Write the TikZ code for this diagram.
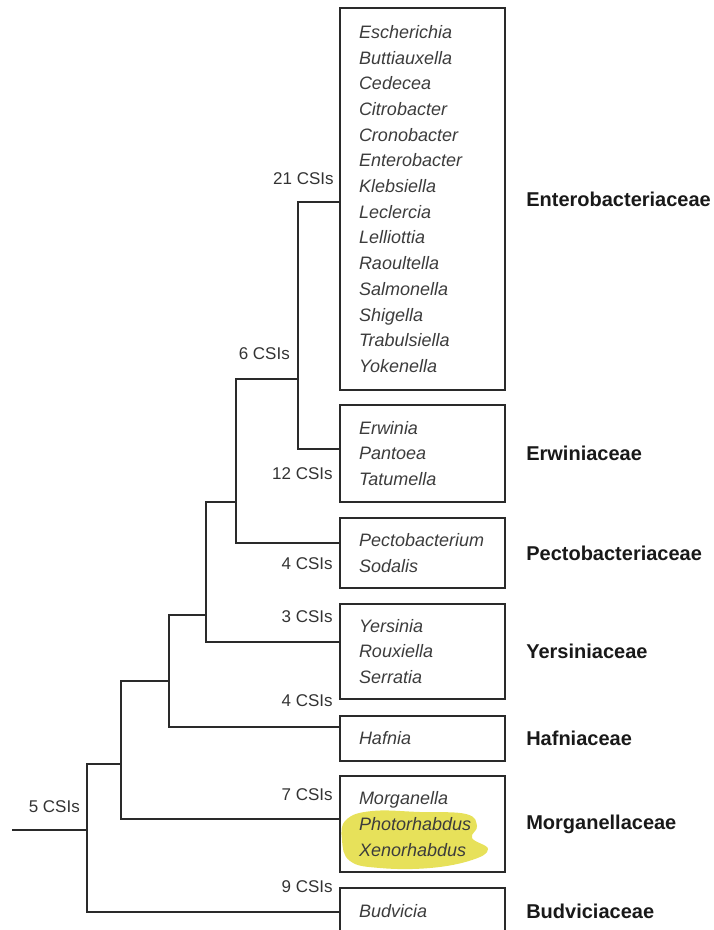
\documentclass[tikz,border=0pt]{standalone}
\usepackage{fontspec}
\setmainfont{Liberation Sans}
\usetikzlibrary{positioning}

\definecolor{treeline}{HTML}{2A2A2A}
\definecolor{genustext}{HTML}{3C3C3C}
\definecolor{csitext}{HTML}{333333}
\definecolor{marker}{RGB}{228,222,72}

\begin{document}
\begin{tikzpicture}[
    x=1pt, y=-1pt,
    familybox/.style={draw=treeline, line width=2.2pt, minimum width=165pt, inner xsep=19pt, inner ysep=0pt, text width=127pt, align=left, font=\fontsize{18}{25.7}\selectfont\itshape, text=genustext},
    familyname/.style={font=\fontsize{20}{24}\selectfont\bfseries, text=black!90, inner sep=0pt},
    csi/.style={font=\fontsize{17}{20}\selectfont, text=csitext, inner sep=0pt},
    branch/.style={draw=treeline, line width=2.2pt, line join=miter}
]
    \useasboundingbox (0,0) rectangle (713,930);
    \clip (0,0) rectangle (713,930);

    % --- HIGHLIGHT (under the Morganellaceae genera) ---
    \fill[marker, opacity=0.9] plot[smooth cycle, tension=0.7] coordinates {(346,820) (372,811) (420,812) (466,814) (477,826) (472,838) (488,849) (472,860) (430,868) (380,868) (350,861) (342,840)};

    % --- FAMILY BOXES ---
    \node[familybox, minimum height=382pt] (entero) at (422.5,199)
        {Escherichia\\Buttiauxella\\Cedecea\\Citrobacter\\Cronobacter\\Enterobacter\\Klebsiella\\Leclercia\\Lelliottia\\Raoultella\\Salmonella\\Shigella\\Trabulsiella\\Yokenella};
    \node[familybox, minimum height=97pt] (erwin) at (422.5,453.5) {Erwinia\\Pantoea\\Tatumella};
    \node[familybox, minimum height=70pt] (pecto) at (422.5,553) {Pectobacterium\\Sodalis};
    \node[familybox, minimum height=95pt] (yersin) at (422.5,651.5) {Yersinia\\Rouxiella\\Serratia};
    \node[familybox, minimum height=45pt] (hafnia) at (422.5,738.5) {Hafnia};
    \node[familybox, minimum height=96pt] (morgan) at (422.5,824) {Morganella\\Photorhabdus\\Xenorhabdus};
    \node[familybox, minimum height=46pt] (budv) at (422.5,911) {Budvicia};

    % --- FAMILY NAMES ---
    \node[familyname, right=20pt of entero] (enteroname) {Enterobacteriaceae};
    \node[familyname, right=20pt of erwin] (erwinname) {Erwiniaceae};
    \node[familyname, right=20pt of pecto] (pectoname) {Pectobacteriaceae};
    \node[familyname, right=20pt of yersin] (yersinname) {Yersiniaceae};
    \node[familyname, right=20pt of hafnia] (hafnianame) {Hafniaceae};
    \node[familyname, right=20pt of morgan] (morganname) {Morganellaceae};
    \node[familyname, right=20pt of budv] (budvname) {Budviciaceae};

    % --- TREE ---
    \coordinate (a1) at ([yshift=-3pt]entero.west);
    \coordinate (a2) at ([yshift=4.5pt]erwin.west);
    \coordinate (a3) at ([yshift=10pt]pecto.west);
    \coordinate (a4) at ([yshift=9.5pt]yersin.west);
    \coordinate (a5) at ([yshift=11.5pt]hafnia.west);
    \coordinate (a6) at ([yshift=5pt]morgan.west);
    \coordinate (a7) at ([yshift=-1pt]budv.west);

    \coordinate (k21) at (298,379);
    \coordinate (k6) at (236,502);
    \coordinate (ka) at (206,615);
    \coordinate (kb) at (169,681);
    \coordinate (kc) at (121,764);
    \coordinate (kd) at (87,830);
    \coordinate (root) at (12,830);

    \path[branch] (a1) -| (k21) |- (a2);
    \path[branch] (k21) -| (k6) |- (a3);
    \path[branch] (k6) -| (ka) |- (a4);
    \path[branch] (ka) -| (kb) |- (a5);
    \path[branch] (kb) -| (kc) |- (a6);
    \path[branch] (kc) -| (kd) |- (a7);
    \path[branch] (root) -- (kd);

    % --- CSI COUNTS ---
    \node[csi, above left=17pt and 5pt of a1] (csi21) {21 CSIs};
    \node[csi, below left=18pt and 6pt of a2] (csi12) {12 CSIs};
    \node[csi, below left=14pt and 6pt of a3] (csi4p) {4 CSIs};
    \node[csi, above left=19pt and 6pt of a4] (csi3) {3 CSIs};
    \node[csi, above left=20pt and 6pt of a5] (csi4h) {4 CSIs};
    \node[csi, above left=18pt and 6pt of a6] (csi7) {7 CSIs};
    \node[csi, above left=19pt and 6pt of a7] (csi9) {9 CSIs};
    \node[csi, above left=19pt and 8pt of k21] (csi6) {6 CSIs};
    \node[csi, above left=17pt and 7pt of kd] (csi5) {5 CSIs};

\end{tikzpicture}
\end{document}
